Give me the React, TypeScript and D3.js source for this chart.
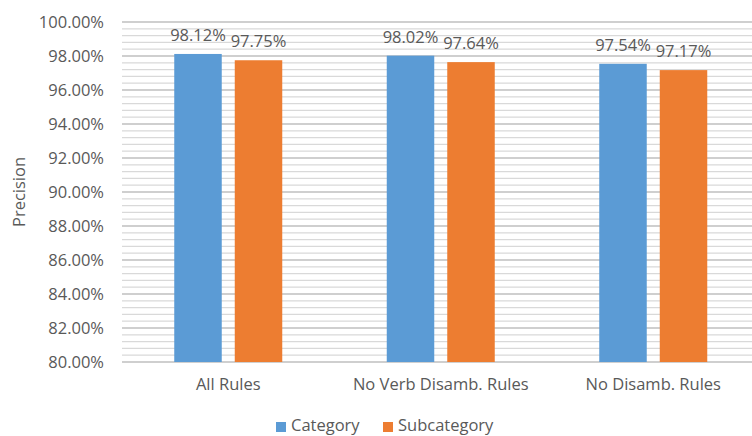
import React from "react";
import * as d3 from "d3";

const categories = ["All Rules", "No Verb Disamb. Rules", "No Disamb. Rules"];
const seriesNames = ["Category", "Subcategory"];
const categoryValues = [98.12, 98.02, 97.54];
const subcategoryValues = [97.75, 97.64, 97.17];
const yTicks = [80, 82, 84, 86, 88, 90, 92, 94, 96, 98, 100];
const colors = ["#5b9bd5", "#ed7d31"];

const W = 752;
const H = 436;
const left = 122;
const right = 759.5;
const top = 22;
const bottom = 362;
const FONT = "'Open Sans', 'Liberation Sans', sans-serif";
const TEXT = "#595959";

export default function App() {
  const y = d3.scaleLinear().domain([80, 100]).range([bottom, top]);
  const x0 = d3.scaleBand<string>().domain(categories).range([left, right]);
  const groupW = 108;
  const x1 = d3
    .scaleBand<string>()
    .domain(seriesNames)
    .range([(x0.bandwidth() - groupW) / 2, (x0.bandwidth() + groupW) / 2])
    .paddingInner(0.215);

  const minor = d3.range(80, 100.001, 0.4).filter((v) => Math.abs(v / 2 - Math.round(v / 2)) > 1e-6);
  const values = [categoryValues, subcategoryValues];

  return (
    <svg width={W} height={H} style={{ position: "absolute", left: 0, top: 0, background: "#fff" }} fontFamily={FONT}>
      <rect width={W} height={H} fill="#fff" />
      {minor.map((v) => (
        <line key={"m" + v} x1={left} x2={W} y1={y(v)} y2={y(v)} stroke="#d9d9d9" strokeWidth={1.3} />
      ))}
      {yTicks.map((v) => (
        <line key={"g" + v} x1={left} x2={W} y1={y(v)} y2={y(v)} stroke="#bfbfbf" strokeWidth={1.6} />
      ))}
      {yTicks.map((v) => (
        <text key={"t" + v} x={104} y={y(v)} dy="0.35em" textAnchor="end" fontSize={16.5} fill={TEXT}>
          {v.toFixed(2) + "%"}
        </text>
      ))}
      <text
        transform={`translate(19,${(top + bottom) / 2}) rotate(-90)`}
        textAnchor="middle"
        dy="0.35em"
        fontSize={16.5}
        fill={TEXT}
      >
        Precision
      </text>
      {categories.map((c, i) => (
        <g key={c} transform={`translate(${x0(c)},0)`}>
          {seriesNames.map((s, j) => {
            const v = values[j][i];
            const bx = x1(s)!;
            return (
              <g key={s}>
                <rect x={bx} y={y(v)} width={x1.bandwidth()} height={bottom - y(v)} fill={colors[j]} />
                <text
                  x={bx + x1.bandwidth() / 2}
                  y={y(v) - 13}
                  textAnchor="middle"
                  fontSize={16.5}
                  fill={TEXT}
                >
                  {v.toFixed(2) + "%"}
                </text>
              </g>
            );
          })}
          <text x={x0.bandwidth() / 2} y={390} textAnchor="middle" fontSize={16.5} fill={TEXT}>
            {c}
          </text>
        </g>
      ))}
      {seriesNames.map((s, j) => {
        const lx = [276, 383][j];
        return (
          <g key={s}>
            <rect x={lx} y={422} width={10} height={10} fill={colors[j]} />
            <text x={lx + 15} y={431} fontSize={16.5} fill={TEXT}>
              {s}
            </text>
          </g>
        );
      })}
    </svg>
  );
}
